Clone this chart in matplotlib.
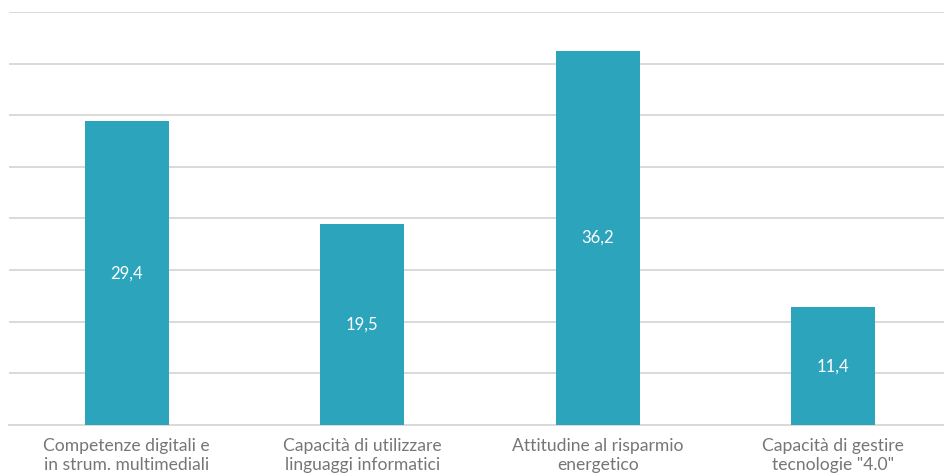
import matplotlib.pyplot as plt

# dati del grafico
categorie = ['Competenze digitali e\nin strum. multimediali',
             'Capacità di utilizzare\nlinguaggi informatici',
             'Attitudine al risparmio\nenergetico',
             'Capacità di gestire\ntecnologie "4.0"']
valori = [29.4, 19.5, 36.2, 11.4]
etichette = ['29,4', '19,5', '36,2', '11,4']

plt.rcParams['font.family'] = ['Lato', 'DejaVu Sans']

fig = plt.figure(figsize=(9.44, 4.73), dpi=100)
# l'asse si estende oltre il bordo destro come nell'originale
ax = fig.add_axes([9 / 944, 48 / 473, 942 / 944, 413 / 473])

x = range(len(categorie))
bars = ax.bar(x, valori, width=0.357, color='#2ca5bc', zorder=3)

for b, lab in zip(bars, etichette):
    ax.text(b.get_x() + b.get_width() / 2, b.get_height() / 2, lab,
            ha='center', va='center', color='white', fontsize=12, zorder=4)

ax.set_xlim(-0.5, 3.5)
ax.set_ylim(0, 40)
ax.set_yticks(range(0, 41, 5))
ax.yaxis.grid(True, color='#d9d9d9', linewidth=1.4, zorder=0)
ax.set_yticklabels([])
ax.tick_params(axis='y', length=0)

ax.set_xticks(list(x))
ax.set_xticklabels(categorie, color='#767676', fontsize=12.6, linespacing=1.3)
ax.tick_params(axis='x', length=0, pad=9)

for s in ['top', 'right', 'left']:
    ax.spines[s].set_visible(False)
ax.spines['bottom'].set_color('#d9d9d9')
ax.spines['bottom'].set_linewidth(1.4)

fig.savefig('out.png', dpi=100)
